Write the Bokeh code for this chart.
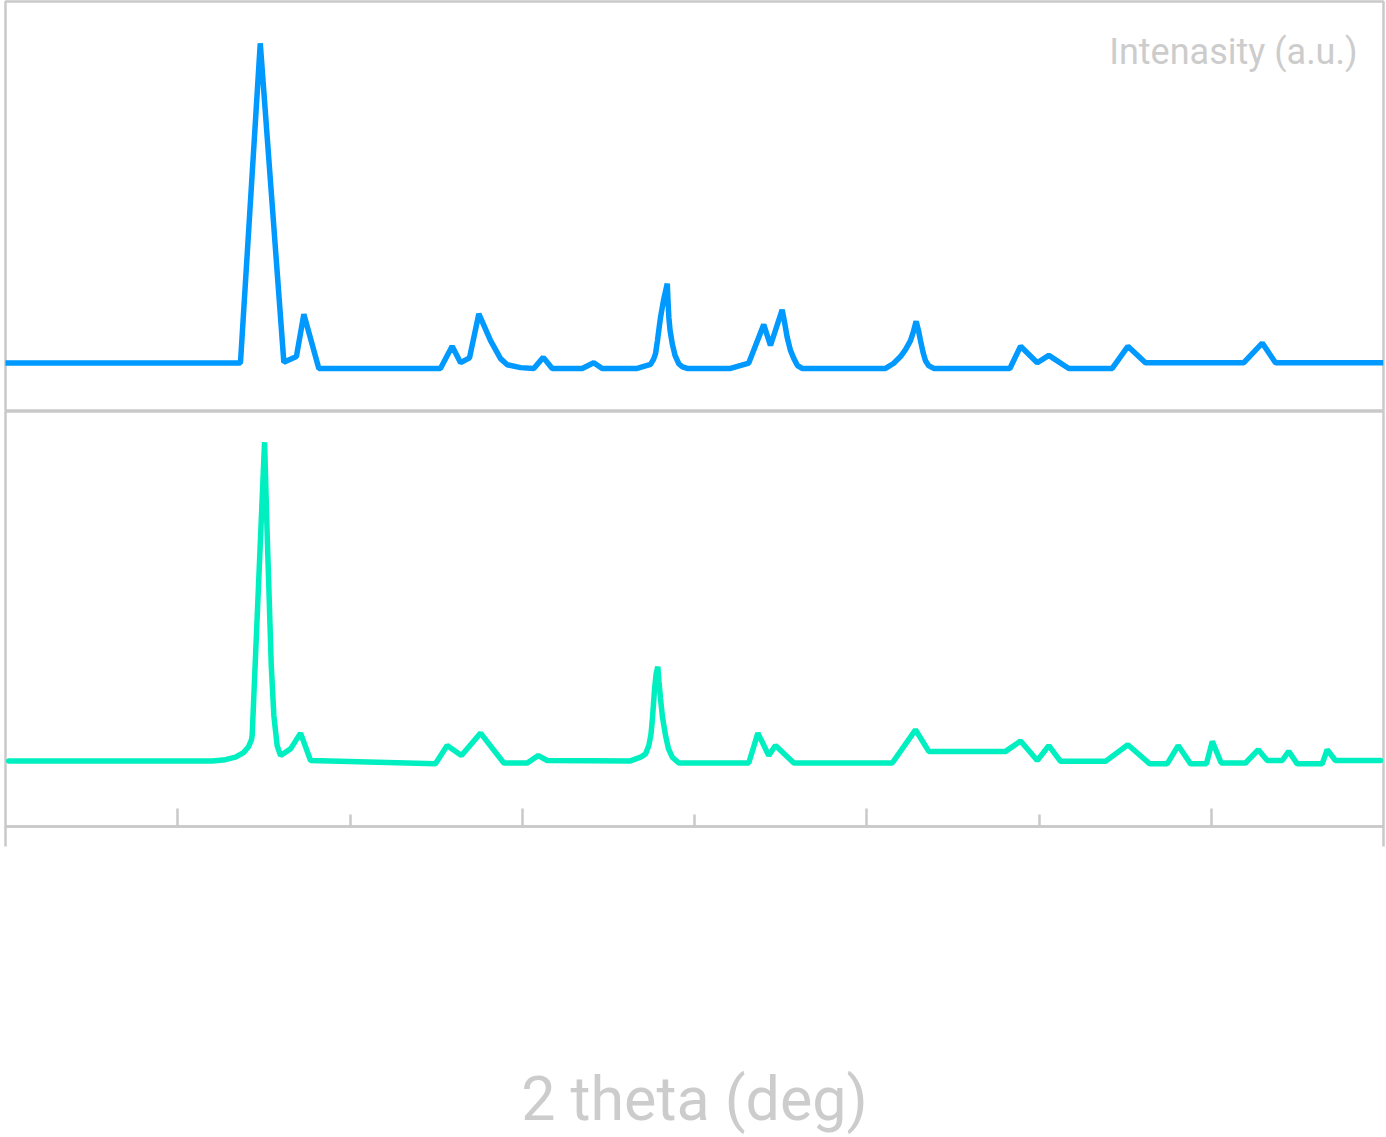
from bokeh.plotting import figure
from bokeh.layouts import column
from bokeh.models import Range1d, LinearAxis, FixedTicker, Label
from bokeh.embed import file_html
from bokeh.resources import INLINE

# ---- data (2 theta in degrees, intensity in a.u.) ----
top_x = [9.83, 23.64, 24.79, 26.16, 26.89, 27.32, 28.19,
         35.25, 35.93, 36.42, 36.94, 37.48, 38.16, 38.74, 39.13, 39.90, 40.67,
         41.22, 41.74, 43.48, 44.15, 44.64, 46.67,
         47.45, 47.62, 47.74, 47.85, 47.94, 48.03, 48.20, 48.42,
         48.46, 48.51, 48.58, 48.71, 48.87, 49.09, 49.30, 49.58,
         52.09, 53.15, 54.02, 54.41, 55.09, 55.23, 55.38, 55.57, 55.77, 55.98, 56.25,
         61.09, 61.55, 61.96, 62.25, 62.54, 62.71, 62.87, 63.00, 63.12, 63.27, 63.41, 63.59, 63.89,
         68.31, 68.93, 69.90, 70.57, 71.73,
         74.25, 75.16, 76.18,
         81.89, 82.96, 83.73, 90.0]
top_y = [11.8, 11.8, 89.8, 12.0, 13.4, 23.7, 10.5,
         10.5, 15.9, 11.9, 13.1, 23.8, 17.3, 12.9, 11.4, 10.7, 10.5,
         13.2, 10.5, 10.5, 11.9, 10.5, 10.5,
         11.5, 12.7, 14.1, 17.3, 20.2, 23.0, 27.1, 31.2,
         27.1, 23.0, 19.8, 16.5, 13.7, 11.6, 10.9, 10.5,
         10.5, 11.8, 21.2, 16.1, 24.8, 21.7, 18.1, 14.9, 12.9, 11.2, 10.5,
         10.5, 11.7, 13.4, 15.1, 17.3, 19.5, 22.0, 19.8, 17.3, 14.4, 12.4, 11.2, 10.5,
         10.5, 15.9, 11.9, 13.7, 10.5,
         10.5, 15.9, 11.9,
         11.9, 16.7, 11.9, 11.9]

bot_x = [10.19, 22.00, 22.77, 23.35, 23.82, 24.11, 24.28, 24.32,
         25.04, 25.19, 25.43, 25.58, 25.77, 25.97,
         26.55, 27.13, 27.71,
         34.96, 35.64, 36.47, 37.58, 38.93, 40.29, 40.93, 41.45,
         46.28, 46.87, 47.16, 47.35, 47.47, 47.54, 47.62, 47.68, 47.77, 47.87,
         47.94, 48.03, 48.14, 48.32, 48.49, 48.71, 49.09,
         53.15, 53.68, 54.31, 54.70, 55.77,
         61.48, 62.83, 63.60,
         68.06, 68.93, 69.90, 70.57, 71.25,
         73.86, 75.16, 76.43, 77.44, 78.08, 78.80, 79.72, 80.06, 80.58,
         81.99, 82.73, 83.25, 84.12, 84.50, 84.99,
         86.44, 86.73, 87.21, 89.83]
bot_y = [15.8, 15.8, 16.1, 16.7, 17.8, 19.2, 20.9, 21.9,
         92.6, 70.7, 38.7, 26.7, 19.5, 17.1,
         18.7, 22.5, 15.9,
         15.1, 19.5, 17.1, 22.5, 15.3, 15.3, 17.1, 15.9,
         15.8, 16.7, 17.5, 19.5, 22.1, 25.1, 29.5, 33.1, 36.7, 38.5,
         34.8, 30.7, 26.4, 21.9, 18.7, 16.7, 15.3,
         15.3, 22.5, 17.1, 19.5, 15.3,
         15.3, 23.3, 18.1,
         18.1, 20.6, 15.9, 19.5, 15.7,
         15.7, 19.7, 15.1, 15.1, 19.5, 15.1, 15.1, 20.5, 15.3,
         15.3, 18.5, 15.9, 15.9, 18.1, 15.1,
         15.1, 18.5, 15.9, 15.9]

x_min, x_max = 10, 90
major_ticks = [20, 40, 60, 80]
minor_ticks = [30, 50, 70]
edge_ticks = [10, 90]

GRAY = "#c9c9c9"
TEXT = "#cccccc"
BLUE = "#0099ff"
GREEN = "#00efc0"
FONT = "Roboto"

xr = Range1d(x_min, x_max)

def base_fig(height, mb_bottom, mb_top):
    p = figure(width=1386, height=height, x_range=xr, y_range=Range1d(0, 100),
               output_backend="svg", toolbar_location=None,
               x_axis_location=None, y_axis_location=None,
               min_border_left=5, min_border_right=3,
               min_border_top=mb_top, min_border_bottom=mb_bottom)
    p.grid.visible = False
    p.outline_line_color = GRAY
    p.outline_line_width = 2.5
    p.background_fill_color = "white"
    p.border_fill_color = "white"
    return p

top = base_fig(411, 0, 1)
top.line(top_x, top_y, line_color=BLUE, line_width=5.5)
top.add_layout(Label(x=88.49, y=87.8, text="Intenasity (a.u.)",
                     text_align="right", text_baseline="alphabetic",
                     text_color=TEXT, text_font=FONT, text_font_size="36px"))

bot = base_fig(726, 308, 0)
bot.line(bot_x, bot_y, line_color=GREEN, line_width=5.5, line_cap="round")

ax_in = LinearAxis(ticker=FixedTicker(ticks=major_ticks, minor_ticks=minor_ticks),
                   major_tick_in=18, major_tick_out=0,
                   minor_tick_in=12, minor_tick_out=0,
                   axis_line_color=GRAY, axis_line_width=2.5,
                   major_tick_line_color=GRAY, major_tick_line_width=2.5,
                   minor_tick_line_color=GRAY, minor_tick_line_width=2.5,
                   major_label_overrides={t: "" for t in major_ticks},
                   major_label_text_font_size="0px", major_label_standoff=0)
bot.add_layout(ax_in, "below")

ax_edge = LinearAxis(ticker=FixedTicker(ticks=edge_ticks, minor_ticks=[]),
                     major_tick_in=0, major_tick_out=20,
                     axis_line_color=None,
                     major_tick_line_color=GRAY, major_tick_line_width=2.5,
                     minor_tick_line_color=None,
                     major_label_overrides={t: "" for t in edge_ticks},
                     major_label_text_font_size="0px", major_label_standoff=0,
                     axis_label="2 theta (deg)", axis_label_standoff=216,
                     axis_label_text_color=TEXT, axis_label_text_font=FONT,
                     axis_label_text_font_size="61px",
                     axis_label_text_font_style="normal")
bot.add_layout(ax_edge, "below")

layout = column(top, bot, spacing=0)

open("out.html", "w").write(file_html(layout, INLINE))
